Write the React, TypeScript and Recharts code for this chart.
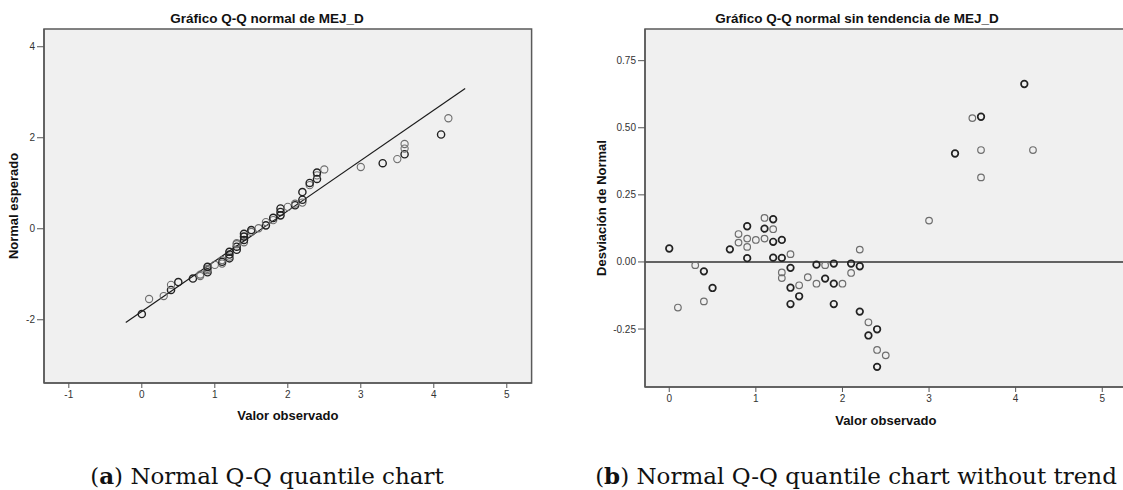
import React from 'react';
import {
  ScatterChart,
  Scatter,
  XAxis,
  YAxis,
  CartesianGrid,
  ReferenceLine,
  ReferenceArea,
  Label,
} from 'recharts';

// Observed values of MEJ_D (sorted)
const observed = [
  0, 0.1, 0.3, 0.4, 0.4, 0.5, 0.7, 0.8, 0.8, 0.9, 0.9, 0.9, 0.9, 1.0, 1.1, 1.1, 1.1,
  1.2, 1.2, 1.2, 1.2, 1.3, 1.3, 1.3, 1.3, 1.4, 1.4, 1.4, 1.4, 1.5, 1.5, 1.6, 1.7, 1.7,
  1.8, 1.8, 1.9, 1.9, 1.9, 2.0, 2.1, 2.1, 2.2, 2.2, 2.2, 2.3, 2.3, 2.4, 2.4, 2.4, 2.5,
  3.0, 3.3, 3.5, 3.6, 3.6, 3.6, 4.1, 4.2,
];

// Expected normal values (left chart)
const expected = [
  -1.875, -1.544, -1.479, -1.345, -1.233, -1.172, -1.094, -1.039, -1.007, -0.957, -0.911,
  -0.88, -0.838, -0.795, -0.766, -0.726, -0.689, -0.65, -0.613, -0.566, -0.507, -0.461,
  -0.394, -0.34, -0.319, -0.297, -0.246, -0.172, -0.111, -0.07, -0.029, 0.011, 0.075,
  0.146, 0.189, 0.239, 0.294, 0.369, 0.445, 0.48, 0.516, 0.551, 0.575, 0.637, 0.806,
  0.958, 1.007, 1.095, 1.172, 1.235, 1.303, 1.357, 1.441, 1.531, 1.637, 1.761, 1.863,
  2.071, 2.428,
];

// Deviation from normal (right chart)
const deviation = [
  0.05, -0.17, -0.012, -0.035, -0.147, -0.097, 0.047, 0.104, 0.072, 0.133, 0.087, 0.056,
  0.014, 0.082, 0.164, 0.124, 0.087, 0.159, 0.122, 0.075, 0.016, 0.082, 0.015, -0.039,
  -0.06, 0.029, -0.022, -0.096, -0.157, -0.087, -0.128, -0.057, -0.01, -0.081, -0.012,
  -0.062, -0.006, -0.081, -0.157, -0.081, -0.006, -0.041, 0.046, -0.016, -0.185, -0.225,
  -0.274, -0.251, -0.328, -0.391, -0.348, 0.154, 0.404, 0.536, 0.541, 0.417, 0.315,
  0.663, 0.417,
];

// Number of overlapping cases per marker (overlaps look darker)
const ties = [
  2, 1, 1, 2, 1, 2, 2, 1, 1, 2, 1, 1, 2, 1, 1, 2, 1, 2, 1, 2, 2, 2, 2, 1, 1, 1, 2, 2, 2,
  1, 2, 1, 2, 1, 1, 2, 2, 2, 2, 1, 2, 1, 1, 2, 2, 1, 2, 2, 1, 2, 1, 1, 2, 1, 2, 1, 1, 2, 1,
];

// Fitted normal line endpoints (left chart)
const fitLine = [
  { x: -0.22, y: -2.06 },
  { x: 4.43, y: 3.08 },
];

const leftXTicks = [-1, 0, 1, 2, 3, 4, 5];
const leftYTicks = [-2, 0, 2, 4];
const rightXTicks = [0, 1, 2, 3, 4, 5];
const rightYTicks = [-0.25, 0, 0.25, 0.5, 0.75];

const leftXDomain: [number, number] = [-1.34, 5.34];
const leftYDomain: [number, number] = [-3.39, 4.39];
const rightXDomain: [number, number] = [-0.28, 5.28];
const rightYDomain: [number, number] = [-0.466, 0.868];

const leftData = observed.map((x, i) => ({ x, y: expected[i], n: ties[i] }));
const rightData = observed.map((x, i) => ({ x, y: deviation[i], n: ties[i] }));

const SANS = '"Liberation Sans", Arial, sans-serif';
const tickStyle = { fontSize: 10, fill: '#333', fontFamily: SANS };
const axisTitleStyle = { fontSize: 13, fontWeight: 700, fill: '#111', fontFamily: SANS };

const makeShape = (r: number, darkW: number, lightW: number) => (p: any) => {
  const dark = p.payload && p.payload.n > 1;
  return (
    <circle
      cx={p.cx}
      cy={p.cy}
      r={r}
      fill="none"
      stroke={dark ? '#222' : '#6e6e6e'}
      strokeWidth={dark ? darkW : lightW}
    />
  );
};

const titleStyle: React.CSSProperties = {
  position: 'absolute',
  top: 10,
  fontFamily: SANS,
  fontSize: 13.5,
  fontWeight: 700,
  color: '#111',
  whiteSpace: 'nowrap',
  transform: 'translateX(-50%)',
  lineHeight: '18px',
};

const captionStyle: React.CSSProperties = {
  position: 'absolute',
  top: 461,
  fontFamily: '"DejaVu Serif", serif',
  fontSize: 23,
  color: '#111',
  whiteSpace: 'nowrap',
  transform: 'translateX(-50%)',
  lineHeight: '30px',
};

export default function App() {
  return (
    <div
      style={{
        position: 'absolute',
        left: 0,
        top: 0,
        width: 1123,
        height: 490,
        overflow: 'hidden',
        background: '#fff',
      }}
    >
      <div style={{ ...titleStyle, left: 267 }}>Gráfico Q-Q normal de MEJ_D</div>
      <div style={{ ...titleStyle, left: 857 }}>Gráfico Q-Q normal sin tendencia de MEJ_D</div>

      <div style={{ position: 'absolute', left: 0, top: 0 }}>
        <ScatterChart
          width={560}
          height={428}
          margin={{ top: 29, right: 28.4, bottom: 0, left: 0 }}
        >
          <CartesianGrid horizontal={false} vertical={false} fill="#f0f0f0" />
          <ReferenceArea
            x1={leftXDomain[0]}
            x2={leftXDomain[1]}
            y1={leftYDomain[0]}
            y2={leftYDomain[1]}
            fill="none"
            stroke="#5a5a5a"
            strokeWidth={1.5}
            fillOpacity={0}
          />
          <XAxis
            type="number"
            dataKey="x"
            domain={leftXDomain}
            ticks={leftXTicks}
            allowDataOverflow
            height={45}
            tickSize={5}
            tickMargin={3}
            axisLine={{ stroke: '#5a5a5a', strokeWidth: 1.5 }}
            tickLine={{ stroke: '#555' }}
            tick={tickStyle}
          >
            <Label value="Valor observado" position="insideBottom" offset={8} style={axisTitleStyle} />
          </XAxis>
          <YAxis
            type="number"
            dataKey="y"
            domain={leftYDomain}
            ticks={leftYTicks}
            allowDataOverflow
            width={44}
            tickSize={7}
            tickMargin={2}
            axisLine={{ stroke: '#5a5a5a', strokeWidth: 1.5 }}
            tickLine={{ stroke: '#555' }}
            tick={tickStyle}
          >
            <Label
              value="Normal esperado"
              angle={-90}
              position="insideLeft"
              offset={13}
              style={{ ...axisTitleStyle, textAnchor: 'middle' }}
            />
          </YAxis>
          <ReferenceLine segment={fitLine} stroke="#1a1a1a" strokeWidth={1.2} ifOverflow="visible" />
          <Scatter
            data={leftData}
            isAnimationActive={false}
            shape={makeShape(3.6, 1.4, 1.1)}
          />
        </ScatterChart>
      </div>

      <div style={{ position: 'absolute', left: 560, top: 0 }}>
        <ScatterChart
          width={580}
          height={432}
          margin={{ top: 29, right: 13.5, bottom: 0, left: 0 }}
        >
          <CartesianGrid horizontal={false} vertical={false} fill="#f0f0f0" />
          <ReferenceArea
            x1={rightXDomain[0]}
            x2={rightXDomain[1]}
            y1={rightYDomain[0]}
            y2={rightYDomain[1]}
            fill="none"
            stroke="#5a5a5a"
            strokeWidth={1.5}
            fillOpacity={0}
          />
          <XAxis
            type="number"
            dataKey="x"
            domain={rightXDomain}
            ticks={rightXTicks}
            allowDataOverflow
            height={45}
            tickSize={5}
            tickMargin={3}
            axisLine={{ stroke: '#5a5a5a', strokeWidth: 1.5 }}
            tickLine={{ stroke: '#555' }}
            tick={tickStyle}
          >
            <Label value="Valor observado" position="insideBottom" offset={7} style={axisTitleStyle} />
          </XAxis>
          <YAxis
            type="number"
            dataKey="y"
            domain={rightYDomain}
            ticks={rightYTicks}
            allowDataOverflow
            width={85}
            tickSize={7}
            tickMargin={2}
            axisLine={{ stroke: '#5a5a5a', strokeWidth: 1.5 }}
            tickLine={{ stroke: '#555' }}
            tick={tickStyle}
            tickFormatter={(v: number) => v.toFixed(2)}
          >
            <Label
              value="Desviación de Normal"
              angle={-90}
              position="insideLeft"
              offset={41.7}
              style={{ ...axisTitleStyle, textAnchor: 'middle' }}
            />
          </YAxis>
          <ReferenceLine y={0} stroke="#333" strokeWidth={1.5} />
          <Scatter
            data={rightData}
            isAnimationActive={false}
            shape={makeShape(3.3, 1.7, 1.2)}
          />
        </ScatterChart>
      </div>

      <div style={{ ...captionStyle, left: 267 }}>
        (<b>a</b>) Normal Q-Q quantile chart
      </div>
      <div style={{ ...captionStyle, left: 856 }}>
        (<b>b</b>) Normal Q-Q quantile chart without trend
      </div>
    </div>
  );
}
